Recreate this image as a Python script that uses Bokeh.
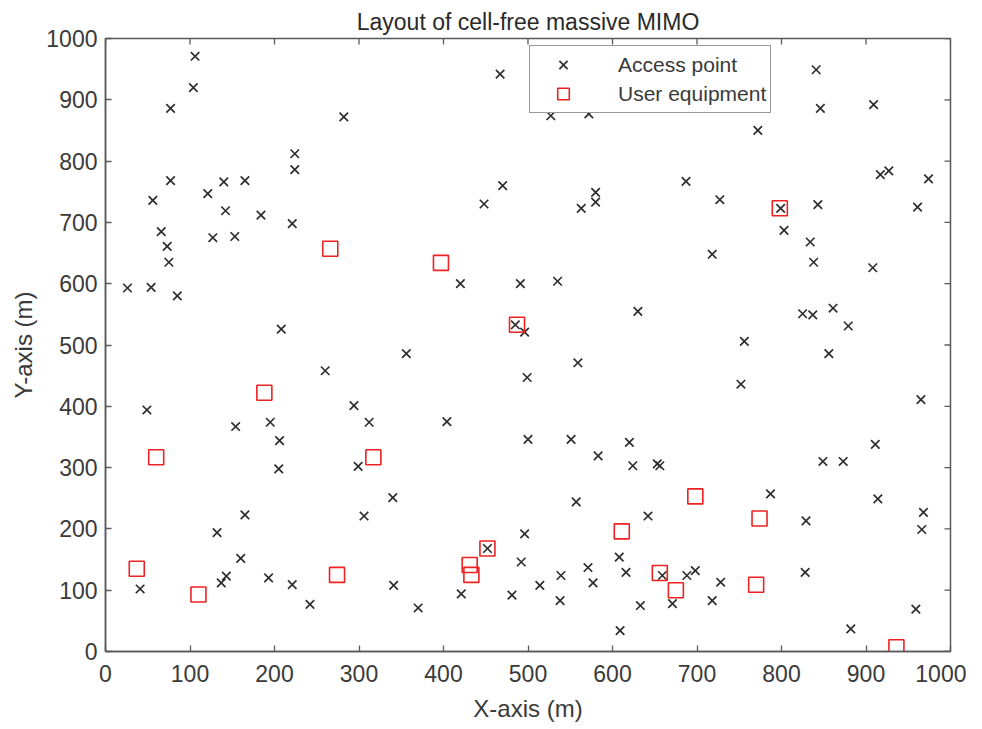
from bokeh.plotting import figure
from bokeh.models import Range1d, FixedTicker, Legend, LegendItem
from bokeh.embed import file_html
from bokeh.resources import INLINE

# Access point positions (m)
ap_x = [106, 104, 77, 282, 224, 224, 77, 140, 165, 121, 56, 142, 184, 221, 66, 127, 153, 73, 75, 26,
        54, 85, 208, 260, 49, 294, 312, 154, 195, 206, 205, 299, 340, 165, 306, 132, 160, 143, 137, 193,
        221, 41, 242, 341, 370,
        467, 527, 572, 470, 448, 580, 580, 563, 420, 491, 535, 630, 485, 496,
        356, 559, 499, 404, 500, 551, 620, 583, 624, 653, 656, 557, 642, 496, 452, 492,
        421, 481, 514, 539, 538, 571, 577, 608, 616, 609, 633, 659, 671, 688, 698, 718, 728,
        841, 846, 909, 772, 687, 727, 799, 843, 917, 927, 974, 961, 803, 834, 718, 838, 908, 861,
        825, 837, 879, 756, 856, 752, 965, 911, 849, 873, 787, 914, 829, 968, 966, 828, 959, 882]
ap_y = [971, 920, 886, 872, 812, 786, 768, 766, 768, 747, 736, 719, 712, 698, 685, 675, 677, 661, 635, 593,
        594, 580, 526, 458, 394, 401, 374, 367, 374, 344, 298, 302, 251, 223, 221, 194, 152, 123, 112, 120,
        109, 102, 77, 108, 71,
        942, 874, 877, 760, 730, 749, 733, 723, 600, 600, 604, 555, 533, 521,
        486, 471, 447, 375, 346, 346, 341, 319, 303, 306, 303, 244, 221, 192, 168, 146,
        94, 92, 108, 124, 83, 137, 112, 154, 129, 34, 75, 124, 78, 124, 132, 83, 113,
        949, 886, 892, 850, 767, 737, 723, 729, 778, 784, 771, 725, 687, 668, 648, 635, 626, 560,
        551, 549, 531, 506, 486, 436, 411, 338, 310, 310, 257, 249, 213, 227, 199, 129, 69, 37]

# User equipment positions (m)
ue_x = [266, 397, 798, 487, 188, 60, 317, 37, 110, 274, 431, 433, 452, 611, 698, 774, 656, 675, 770, 936]
ue_y = [657, 634, 723, 533, 422, 317, 317, 135, 93, 125, 141, 125, 168, 196, 253, 217, 128, 100, 109, 7]

ticks = [0, 100, 200, 300, 400, 500, 600, 700, 800, 900, 1000]

title_text = "Layout of cell-free massive MIMO"
x_label = "X-axis (m)"
y_label = "Y-axis (m)"
legend_labels = ["Access point", "User equipment"]

FONT = "Liberation Sans"
TXT = "#3a3a3a"
AX = "#5a5a5a"

W, H = 966, 728
ML, MR, MT, MB = 105, 16, 38, 77
FW, FH = W - ML - MR, H - MT - MB

p = figure(width=W, height=H, output_backend="svg", toolbar_location=None,
           x_range=Range1d(0, 1000), y_range=Range1d(0, 1000),
           min_border_left=ML, min_border_right=MR, min_border_top=MT, min_border_bottom=MB,
           title=title_text)
p.title.align = "center"
p.title.text_font = FONT
p.title.text_font_size = "23px"
p.title.text_font_style = "normal"
p.title.text_color = "#2a2a2a"
p.title.standoff = 8
p.grid.visible = False
p.outline_line_color = AX
p.outline_line_width = 1.5
p.background_fill_color = "white"
p.border_fill_color = "white"

for ax in (p.xaxis[0], p.yaxis[0]):
    ax.ticker = FixedTicker(ticks=ticks)
    ax.major_tick_in = 6
    ax.major_tick_out = 0
    ax.minor_tick_in = 0
    ax.minor_tick_out = 0
    ax.axis_line_color = AX
    ax.axis_line_width = 1.5
    ax.major_tick_line_color = AX
    ax.major_tick_line_width = 1.3
    ax.major_label_text_font = FONT
    ax.major_label_text_font_size = "23px"
    ax.major_label_text_color = TXT
    ax.axis_label_text_font = FONT
    ax.axis_label_text_font_size = "24px"
    ax.axis_label_text_font_style = "normal"
    ax.axis_label_text_color = TXT
p.xaxis[0].axis_label = x_label
p.yaxis[0].axis_label = y_label
p.xaxis[0].major_label_standoff = 13
p.xaxis[0].axis_label_standoff = 10
p.yaxis[0].major_label_standoff = 8
p.yaxis[0].axis_label_standoff = 6

# inward ticks on the top and right edges of the box
tick_px = 6
dy = tick_px * 1000 / FH
dx = tick_px * 1000 / FW
n = len(ticks)
p.segment(x0=ticks, y0=[1000] * n, x1=ticks, y1=[1000 - dy] * n, line_color=AX, line_width=1.3)
p.segment(x0=[1000] * n, y0=ticks, x1=[1000 - dx] * n, y1=ticks, line_color=AX, line_width=1.3)

r_ap = p.scatter(ap_x, ap_y, marker="x", size=12, line_color="#2e2e2e", line_width=1.7)
r_ue = p.scatter(ue_x, ue_y, marker="square", size=15, fill_color=None,
                 line_color="#ee2222", line_width=1.6)

legend = Legend(items=[LegendItem(label=legend_labels[0], renderers=[r_ap]),
                       LegendItem(label=legend_labels[1], renderers=[r_ue])],
                location=(424, 538))
legend.label_text_font = FONT
legend.label_text_font_size = "21px"
legend.label_text_color = TXT
legend.border_line_color = "#333333"
legend.border_line_width = 1.2
legend.background_fill_alpha = 1.0
legend.padding = 4
legend.margin = 0
legend.spacing = 0
legend.glyph_width = 58
legend.glyph_height = 29
legend.label_height = 29
legend.label_standoff = 26
p.add_layout(legend, "center")

open("out.html", "w").write(file_html(p, INLINE))
